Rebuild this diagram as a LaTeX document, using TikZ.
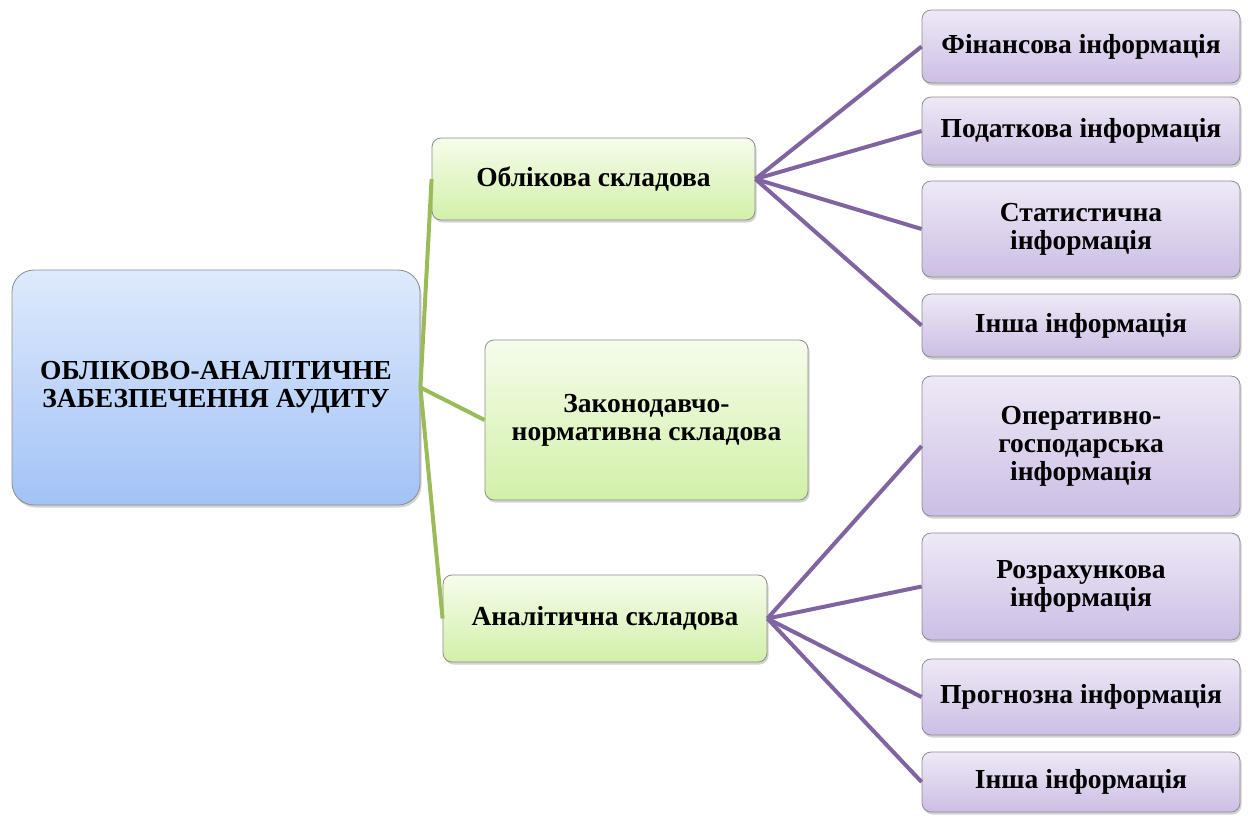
\documentclass[tikz,border=0pt]{standalone}
\usepackage{fontspec}
\setmainfont{Liberation Serif}
\usetikzlibrary{shadows}
\definecolor{rootTop}{RGB}{222,234,252}
\definecolor{rootBot}{RGB}{162,194,246}
\definecolor{midTop}{RGB}{246,252,236}
\definecolor{midBot}{RGB}{210,240,168}
\definecolor{infoTop}{RGB}{238,233,246}
\definecolor{infoBot}{RGB}{204,190,228}
\definecolor{greenLink}{RGB}{155,187,89}
\definecolor{purpleLink}{RGB}{128,100,162}
\begin{document}
\begin{tikzpicture}[x=1pt,y=-1pt,
    box/.style={draw=black!45, line width=0.8pt, rounded corners=9pt, align=center,
      font=\bfseries\fontsize{27.5}{28}\selectfont, inner sep=2pt,
      drop shadow={opacity=0.35, shadow xshift=1.5pt, shadow yshift=-2.5pt}},
    rootbox/.style={box, rounded corners=22pt, top color=rootTop, bottom color=rootBot,
      minimum width=408pt, minimum height=235pt},
    midbox/.style={box, top color=midTop, bottom color=midBot, minimum width=323pt},
    infobox/.style={box, top color=infoTop, bottom color=infoBot, minimum width=318pt},
    greenline/.style={greenLink, line width=4pt},
    purpleline/.style={purpleLink, line width=4pt}]
  \useasboundingbox (0,0) rectangle (1248,815);
  % main node
  \node[rootbox] (root) at (216,387.5) {ОБЛІКОВО-АНАЛІТИЧНЕ\\ЗАБЕЗПЕЧЕННЯ АУДИТУ};
  % components
  \node[midbox, minimum height=82pt] (obl) at (593.5,179) {Облікова складова};
  \node[midbox, minimum height=160pt] (zak) at (646.5,420) {Законодавчо-\\нормативна складова};
  \node[midbox, minimum height=87pt, minimum width=324pt] (anal) at (605,618.5) {Аналітична складова};
  % kinds of information
  \node[infobox, minimum height=73pt] (fin) at (1081,46.5) {Фінансова інформація};
  \node[infobox, minimum height=68pt] (pod) at (1081,131) {Податкова інформація};
  \node[infobox, minimum height=96pt] (stat) at (1081,229) {Статистична\\інформація};
  \node[infobox, minimum height=63pt] (insha1) at (1081,325.5) {Інша інформація};
  \node[infobox, minimum height=140pt] (oper) at (1081,446) {Оперативно-\\господарська\\інформація};
  \node[infobox, minimum height=107pt] (rozr) at (1081,586.5) {Розрахункова\\інформація};
  \node[infobox, minimum height=76pt] (progn) at (1081,697) {Прогнозна інформація};
  \node[infobox, minimum height=60pt] (insha2) at (1081,782) {Інша інформація};
  \begin{scope}[greenline]
    \draw (root.east) to (obl.west);
    \draw (root.east) to (zak.west);
    \draw (root.east) to (anal.west);
  \end{scope}
  \begin{scope}[purpleline]
    \draw (obl.east) to (fin.west);
    \draw (obl.east) to (pod.west);
    \draw (obl.east) to (stat.west);
    \draw (obl.east) to (insha1.west);
    \draw (anal.east) to (oper.west);
    \draw (anal.east) to (rozr.west);
    \draw (anal.east) to (progn.west);
    \draw (anal.east) to (insha2.west);
  \end{scope}
\end{tikzpicture}
\end{document}
